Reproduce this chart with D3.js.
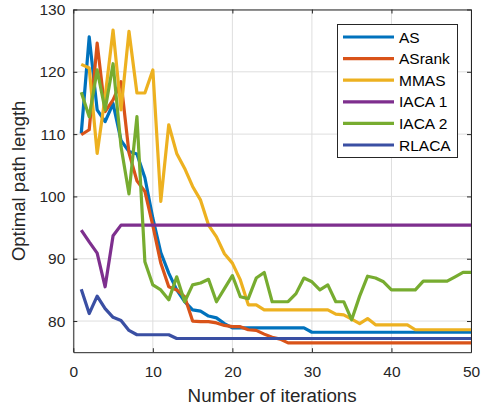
<!DOCTYPE html>
<html>
<head>
<meta charset="utf-8">
<script src="https://cdn.jsdelivr.net/npm/d3@7"></script>
<style>
	body { margin: 0; background: #fff; }
	svg { display: block; font-family: "Liberation Sans", Arial, Helvetica, sans-serif; }
</style>
</head>
<body>
<svg id="chart" width="481" height="410"></svg>
<script>
// values, one per iteration 1..50
var iterations = d3.range(1, 51);
var seriesNames = ["AS", "ASrank", "MMAS", "IACA 1", "IACA 2", "RLACA"];
var seriesColors = ["#0072BD", "#D95319", "#EDB120", "#7E2F8E", "#77AC30", "#3A4FA3"];

var asVals = [110.1, 125.6, 113.9, 112, 114.9, 109, 107.2, 106.8, 103, 96.5,
	91, 87.7, 85, 83.1, 81.8, 81.6, 80.8, 80.5, 79.6, 78.9,
	78.9, 78.9, 78.9, 78.9, 78.9, 78.9, 78.9, 78.9, 78.9, 78.2,
	78.2, 78.2, 78.2, 78.2, 78.2, 78.2, 78.2, 78.2, 78.2, 78.2,
	78.2, 78.2, 78.2, 78.2, 78.2, 78.2, 78.2, 78.2, 78.2, 78.2];
var asrankVals = [109.9, 110.7, 124.6, 113.6, 115.5, 118.4, 107, 102.5, 100.8, 95.3,
	89.3, 85.5, 85, 83.9, 80, 79.9, 79.9, 79.7, 79.3, 79.1,
	79.1, 78.6, 78.5, 77.9, 77.4, 77.1, 76.5, 76.5, 76.5, 76.5,
	76.5, 76.5, 76.5, 76.5, 76.5, 76.5, 76.5, 76.5, 76.5, 76.5,
	76.5, 76.5, 76.5, 76.5, 76.5, 76.5, 76.5, 76.5, 76.5, 76.5];
var mmasVals = [121.2, 120.6, 106.9, 116, 126.7, 113.9, 126.5, 116.6, 116.6, 120.3,
	99.2, 111.5, 106.9, 104.5, 101.6, 99.4, 95.4, 93.5, 90.8, 89.3,
	86.6, 82.6, 82.6, 81.8, 81.8, 81.8, 81.8, 81.8, 81.8, 81.8,
	81.8, 81.8, 81.1, 81, 80.3, 79.6, 80.4, 79.4, 79.4, 79.4,
	79.4, 79.4, 78.6, 78.6, 78.6, 78.6, 78.6, 78.6, 78.6, 78.6];
var iaca1Vals = [94.6, 92.7, 90.9, 85.5, 93.7, 95.4, 95.4, 95.4, 95.4, 95.4,
	95.4, 95.4, 95.4, 95.4, 95.4, 95.4, 95.4, 95.4, 95.4, 95.4,
	95.4, 95.4, 95.4, 95.4, 95.4, 95.4, 95.4, 95.4, 95.4, 95.4,
	95.4, 95.4, 95.4, 95.4, 95.4, 95.4, 95.4, 95.4, 95.4, 95.4,
	95.4, 95.4, 95.4, 95.4, 95.4, 95.4, 95.4, 95.4, 95.4, 95.4];
var iaca2Vals = [116.7, 112.8, 120.3, 113.9, 121.3, 108, 100.4, 112.8, 89.5, 85.8,
	85, 83.4, 87.1, 83.1, 85.8, 86.1, 86.7, 83.1, 85.2, 87.3,
	83.9, 83.6, 86.9, 87.8, 83.1, 83.1, 83.1, 84.4, 86.9, 86.3,
	85, 85.8, 83.1, 83.1, 80.2, 84, 87.2, 86.9, 86.3, 85,
	85, 85, 85, 86.4, 86.4, 86.4, 86.4, 87.1, 87.8, 87.8];
var rlacaVals = [85.1, 81.2, 84, 82, 80.6, 80.1, 78.5, 77.8, 77.8, 77.8,
	77.8, 77.8, 77.2, 77.2, 77.2, 77.2, 77.2, 77.2, 77.2, 77.2,
	77.2, 77.2, 77.2, 77.2, 77.2, 77.2, 77.2, 77.2, 77.2, 77.2,
	77.2, 77.2, 77.2, 77.2, 77.2, 77.2, 77.2, 77.2, 77.2, 77.2,
	77.2, 77.2, 77.2, 77.2, 77.2, 77.2, 77.2, 77.2, 77.2, 77.2];

var xTicks = [0, 10, 20, 30, 40, 50];
var yTicks = [80, 90, 100, 110, 120, 130];

var allVals = [asVals, asrankVals, mmasVals, iaca1Vals, iaca2Vals, rlacaVals];

var svg = d3.select("#chart");
var pLeft = 73.3, pRight = 471, pTop = 9.5, pBottom = 352.2;
var axisColor = "#262626";

var x = d3.scaleLinear().domain([0, 50]).range([pLeft, pRight]);
var y = d3.scaleLinear().domain([75, 130]).range([pBottom, pTop]);

// grid
var grid = svg.append("g").attr("class", "grid");
grid.selectAll(".gx").data(xTicks).enter().append("line")
	.attr("x1", function(d) { return x(d); }).attr("x2", function(d) { return x(d); })
	.attr("y1", pTop).attr("y2", pBottom)
	.attr("stroke", "#dedede").attr("stroke-width", 1);
grid.selectAll(".gy").data(yTicks).enter().append("line")
	.attr("x1", pLeft).attr("x2", pRight)
	.attr("y1", function(d) { return y(d); }).attr("y2", function(d) { return y(d); })
	.attr("stroke", "#dedede").attr("stroke-width", 1);

// series
var line = d3.line()
	.x(function(d) { return x(d[0]); })
	.y(function(d) { return y(d[1]); });

allVals.forEach(function(vals, i) {
	var pts = iterations.map(function(it, k) { return [it, vals[k]]; });
	svg.append("path")
		.attr("d", line(pts))
		.attr("fill", "none")
		.attr("stroke", seriesColors[i])
		.attr("stroke-width", 3.2)
		.attr("stroke-linejoin", "round");
});

// axes, MATLAB style box with inward ticks
function styleAxis(g) {
	g.select(".domain").attr("stroke", axisColor);
	g.selectAll(".tick line").attr("stroke", axisColor);
	g.selectAll(".tick text").attr("fill", "#262626").attr("font-size", 15.5);
}

svg.append("g").attr("transform", "translate(0," + pBottom + ")")
	.call(d3.axisBottom(x).tickValues(xTicks).tickSize(-4).tickSizeOuter(0).tickPadding(14))
	.call(styleAxis)
	.attr("font-family", null);
svg.append("g").attr("transform", "translate(" + pLeft + ",0)")
	.call(d3.axisLeft(y).tickValues(yTicks).tickSize(-4).tickSizeOuter(0).tickPadding(8))
	.call(styleAxis)
	.attr("font-family", null);
svg.append("g").attr("transform", "translate(0," + pTop + ")")
	.call(d3.axisTop(x).tickValues(xTicks).tickSize(-4).tickSizeOuter(0).tickFormat(""))
	.call(styleAxis);
svg.append("g").attr("transform", "translate(" + pRight + ",0)")
	.call(d3.axisRight(y).tickValues(yTicks).tickSize(-4).tickSizeOuter(0).tickFormat(""))
	.call(styleAxis);

// axis labels
svg.append("text")
	.attr("x", (pLeft + pRight) / 2).attr("y", 402)
	.attr("text-anchor", "middle").attr("font-size", 18.8).attr("fill", "#262626")
	.text("Number of iterations");
svg.append("text")
	.attr("transform", "translate(25," + (pTop + pBottom) / 2 + ") rotate(-90)")
	.attr("text-anchor", "middle").attr("font-size", 18.5).attr("fill", "#262626")
	.text("Optimal path length");

// legend
var legend = svg.append("g").attr("class", "legend");
legend.append("rect")
	.attr("x", 337.5).attr("y", 24.5).attr("width", 120).attr("height", 133)
	.attr("fill", "#fff").attr("stroke", axisColor).attr("stroke-width", 1);
legend.selectAll(".entry").data(seriesNames).enter().append("g").attr("class", function(d, i) {
	var e = d3.select(this);
	var ly = 37 + i * 21.6;
	e.append("line")
		.attr("x1", 343).attr("x2", 394).attr("y1", ly).attr("y2", ly)
		.attr("stroke", seriesColors[i]).attr("stroke-width", 3.2);
	e.append("text")
		.attr("x", 399).attr("y", ly).attr("dy", "0.36em")
		.attr("font-size", 15.5).attr("fill", "#000")
		.text(d);
	return "entry";
});
</script>
</body>
</html>
